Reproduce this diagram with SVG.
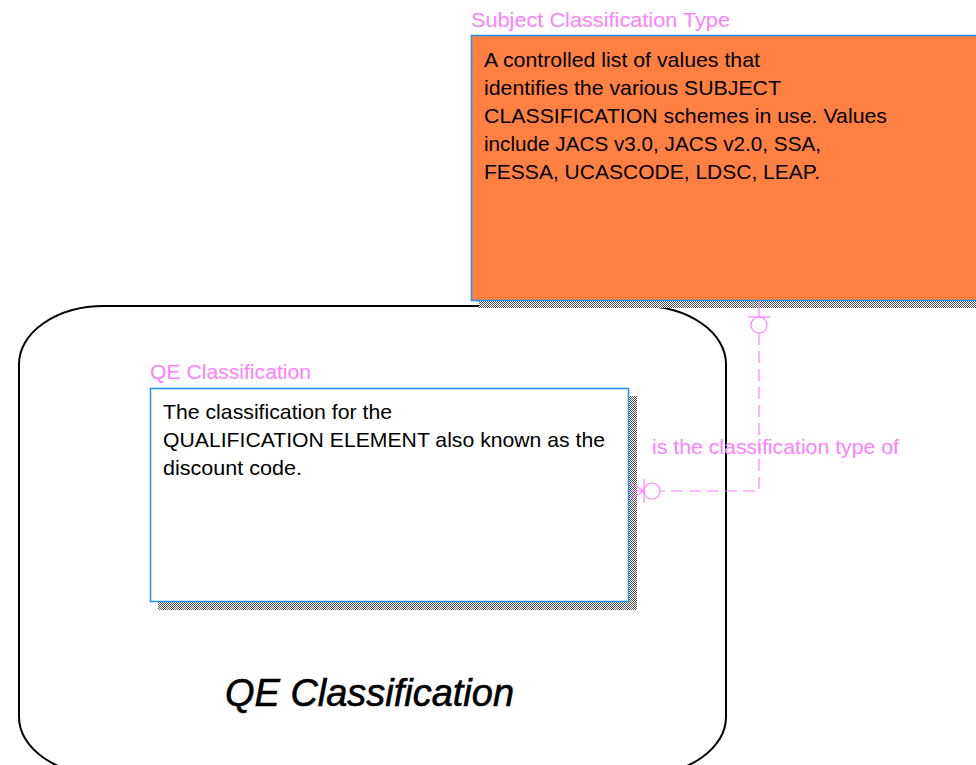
<svg xmlns="http://www.w3.org/2000/svg" width="976" height="765" viewBox="0 0 976 765">
<defs>
<pattern id="chk" width="2" height="2" patternUnits="userSpaceOnUse">
<rect width="2" height="2" fill="#ffffff"/>
<rect x="0" y="0" width="1" height="1" fill="#505050"/>
<rect x="1" y="1" width="1" height="1" fill="#505050"/>
</pattern>
<style>
.lbl{font-family:"Liberation Sans",Arial,sans-serif;font-size:21px;fill:#FF80FF}
.body{font-family:"Liberation Sans",Arial,sans-serif;font-size:21px;fill:#000}
.ent{stroke:#1E8FFF;stroke-width:1.5}
.rel{stroke:#FF80FF;stroke-width:1.2;fill:none}
</style>
</defs>
<rect width="976" height="765" fill="#fff"/>

<g id="subject-area">
<path d="M104,306 H641 A85,58 0 0 1 726,364 V717 A85,58 0 0 1 641,775 H104 A85,58 0 0 1 19,717 V364 A85,58 0 0 1 104,306 Z" fill="none" stroke="#000" stroke-width="2"/>
<text x="225" y="706" font-family="'Liberation Sans',Arial,sans-serif" font-size="38" font-style="italic" stroke="#000" stroke-width="0.6" textLength="289" lengthAdjust="spacingAndGlyphs">QE Classification</text>
</g>

<g id="subject-classification-type">
<rect x="479" y="300" width="497" height="8" fill="url(#chk)"/>
<rect x="471.5" y="35.5" width="510" height="265" fill="#FF8040" class="ent"/>
<text class="lbl" x="471" y="27" textLength="259" lengthAdjust="spacingAndGlyphs">Subject Classification Type</text>
<text class="body" x="484" y="67" textLength="276" lengthAdjust="spacingAndGlyphs">A controlled list of values that</text>
<text class="body" x="484" y="95" textLength="297" lengthAdjust="spacingAndGlyphs">identifies the various SUBJECT</text>
<text class="body" x="484" y="123" textLength="403" lengthAdjust="spacingAndGlyphs">CLASSIFICATION schemes in use. Values</text>
<text class="body" x="484" y="151" textLength="337" lengthAdjust="spacingAndGlyphs">include JACS v3.0, JACS v2.0, SSA,</text>
<text class="body" x="484" y="179" textLength="336" lengthAdjust="spacingAndGlyphs">FESSA, UCASCODE, LDSC, LEAP.</text>
</g>

<g id="qe-classification">
<rect x="158" y="396" width="479" height="214" fill="url(#chk)"/>
<rect x="150.5" y="388.5" width="478" height="213" fill="#fff" class="ent"/>
<text class="lbl" x="150" y="379" textLength="161" lengthAdjust="spacingAndGlyphs">QE Classification</text>
<text class="body" x="163" y="419" textLength="229" lengthAdjust="spacingAndGlyphs">The classification for the</text>
<text class="body" x="163" y="447" textLength="442" lengthAdjust="spacingAndGlyphs">QUALIFICATION ELEMENT also known as the</text>
<text class="body" x="163" y="475" textLength="139" lengthAdjust="spacingAndGlyphs">discount code.</text>
</g>

<g id="connectors">
<path class="rel" d="M759,301 V317"/>
<path class="rel" d="M748,317 H770"/>
<circle class="rel" cx="759" cy="325" r="8"/>
<path class="rel" d="M759,333 V491 H660" stroke-dasharray="12 6"/>
<circle class="rel" cx="652" cy="491" r="8"/>
<path class="rel" d="M644,479 V503"/>
<path class="rel" d="M644,491 H630 M644,491 L630,483 M644,491 L630,499"/>
<text class="lbl" x="652" y="454" textLength="247" lengthAdjust="spacingAndGlyphs">is the classification type of</text>
</g>
</svg>
